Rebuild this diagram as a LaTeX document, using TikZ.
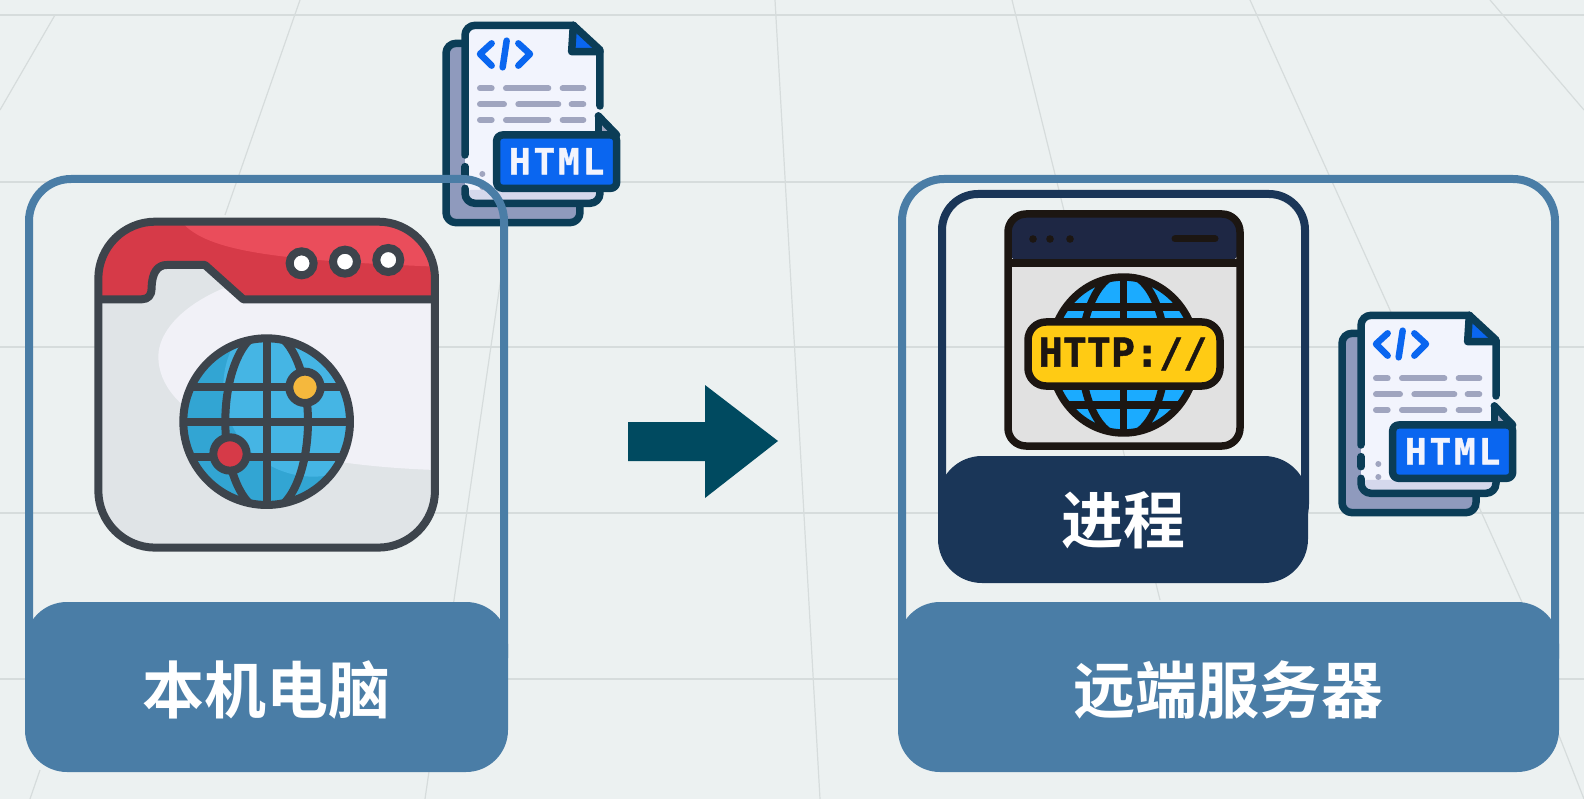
\documentclass[tikz,border=0pt]{standalone}
\usepackage{fontspec}
\newfontfamily\cjkbold[BoldFont=Noto Sans CJK SC Bold]{Noto Sans CJK SC}
\newfontfamily\iconmono[FakeBold=1.2]{DejaVu Sans Mono Bold}
\definecolor{bgc}{HTML}{ECF1F1}
\definecolor{gridc}{HTML}{D6DCDC}
\definecolor{cardc}{HTML}{4A7DA6}
\definecolor{navyc}{HTML}{1A3658}
\definecolor{arrowc}{HTML}{004A60}
\definecolor{inkc}{HTML}{3D444C}
\definecolor{redc}{HTML}{D63A48}
\definecolor{redl}{HTML}{EA4D5B}
\definecolor{bodyc}{HTML}{E0E4E7}
\definecolor{bodyl}{HTML}{F1F1F7}
\definecolor{gl}{HTML}{45B5E4}
\definecolor{gd}{HTML}{32A5D3}
\definecolor{docink}{HTML}{0B3D57}
\definecolor{docback}{HTML}{8F9ABD}
\definecolor{docfront}{HTML}{F2F4FD}
\definecolor{docstrip}{HTML}{D5D8EC}
\definecolor{doclines}{HTML}{A0A5BF}
\definecolor{htmlc}{HTML}{0A66F0}
\definecolor{blk}{HTML}{1C1612}
\definecolor{hdr}{HTML}{1E2744}
\definecolor{panel}{HTML}{E1E1E1}
\definecolor{gb}{HTML}{1BABFF}
\definecolor{yel}{HTML}{FFCB14}
\definecolor{dotyel}{HTML}{F5B83D}
\tikzset{
  gridline/.style={gridc,line width=1.2pt},
  cardline/.style={cardc,line width=8pt,rounded corners=42pt},
  cardband/.style={fill=cardc,rounded corners=42pt},
  cardtext/.style={text=white,font=\cjkbold\bfseries\fontsize{62}{62}\selectfont},
  docline/.style={docink,line width=7.5pt,line cap=round,line join=round},
  textline/.style={doclines,line width=6pt,line cap=round},
  codeline/.style={htmlc,line width=6.5pt,line cap=round,line join=round},
  winline/.style={inkc,line width=8pt,line join=round},
  webline/.style={blk,line width=7.5pt,line join=round},
}
\newcommand{\docicon}[3]{%
\begin{scope}[shift={(420+#1,#2)},scale=0.3333]
  \fill[docback,rounded corners=10pt] (78,130) -- (480,130) -- (480,668) -- (78,668) -- cycle;
  \draw[docline,rounded corners=10pt] (135,130) -- (78,130) -- (78,668) -- (480,668) -- (480,610);
  \fill[docfront,rounded corners=10pt] (135,76) -- (460,76) -- (540,150) -- (540,610) -- (135,610) -- cycle;
  \fill[docstrip,rounded corners=4pt] (140,570) -- (535,570) -- (535,600) -- (140,600) -- cycle;
  \fill[htmlc] (455,84) -- (535,155) -- (455,155) -- cycle;
  \draw[docline,rounded corners=10pt] (135,465) -- (135,76) -- (460,76);
  \draw[docline] (460,76) -- (540,150) -- (540,318);
  \draw[docline] (460,76) -- (455,155) -- (540,155);
  \draw[docline] (135,500) -- (135,530);
  \draw[docline,rounded corners=10pt] (135,565) -- (135,610) -- (540,610) -- (540,570);
  \fill[doclines] (535,350) -- (590,405) -- (535,405) -- cycle;
  \draw[docline] (535,348) -- (590,405);
  \draw[docline] (535,348) -- (535,405);
  \fill[doclines] (187,522) circle (9);
  \fill[doclines] (187,561) circle (9);
  \draw[codeline] (215,130) -- (180,162) -- (215,197);
  \draw[codeline] (260,122) -- (248,202);
  \draw[codeline] (295,130) -- (330,162) -- (295,197);
  \foreach \a/\b/\c in {265/180/215,265/258/385,265/428/490,313/180/252,313/295/415,313/455/490,360/180/215,360/258/385,360/428/490}
    \draw[textline] (\b,\a) -- (\c,\a);
  \filldraw[draw=docink,fill=htmlc,line width=7.5pt,rounded corners=6pt,line join=round] (230,405) rectangle (590,565);
  \node[text=docfront,inner sep=0pt,font=\iconmono\fontsize{36}{36}\selectfont\addfontfeatures{LetterSpace=8}] (#3) at (410,484) {HTML};
\end{scope}}
\begin{document}
\begin{tikzpicture}[x=1pt,y=-1pt]
\useasboundingbox (0,0) rectangle (1584,799);
\fill[bgc] (0,0) rectangle (1584,799);
% floor grid
\foreach \yy in {15,182,347,513,679}
  \draw[gridline] (0,\yy) -- (1584,\yy);
\draw[gridline] (775,0) -- (820,799);
\draw[gridline] (300,0) -- (225,215);
\draw[gridline] (505,250) -- (425,799);
\draw[gridline] (55,15) -- (0,110);
\draw[gridline] (40,770) -- (30,799);
\draw[gridline] (1012,0) -- (1160,600);
\draw[gridline] (1250,0) -- (1530,620);
\draw[gridline] (1490,0) -- (1584,110);
\draw[gridline] (1545,700) -- (1584,799);

% document above the left card
\docicon{0}{0}{htmlA}

% left card
\draw[cardline] (29,179) rectangle (504,700);
\fill[cardband] (25,602) rectangle (508,772);
\node[cardtext] (localtext) at (266,690) {本机电脑};

% left window icon
\begin{scope}[shift={(80,200)},scale=0.3333]
  \begin{scope}
    \clip[rounded corners=57pt] (55,65) rectangle (1065,1043);
    \fill[bodyc] (55,65) rectangle (1065,1043);
    \fill[bodyl] (1065,298) -- (490,298) -- (430,265) .. controls (300,320) and (235,400) .. (235,470)
       .. controls (235,640) and (500,790) .. (1065,810) -- cycle;
    \begin{scope}
      \clip (55,298) -- (185,298) .. controls (205,298) and (215,285) .. (215,265)
       .. controls (215,215) and (235,195) .. (260,195) -- (375,195) -- (490,298) -- (1065,298) -- (1065,50) -- (55,50) -- cycle;
      \fill[redc] (40,50) rectangle (1080,310);
      \fill[redl] (300,60) .. controls (370,150) and (560,180) .. (1070,200) -- (1070,60) -- cycle;
    \end{scope}
  \end{scope}
  \draw[winline] (55,298) -- (185,298) .. controls (205,298) and (215,285) .. (215,265)
     .. controls (215,215) and (235,195) .. (260,195) -- (375,195) -- (490,298) -- (1065,298);
  \draw[winline,rounded corners=57pt] (55,65) rectangle (1065,1043);
  \foreach \px/\py in {665/190,795/185,925/180}
    \filldraw[draw=inkc,fill=white,line width=8pt] (\px,\py) circle (36);
  % globe
  \fill[gd] (560,665) circle (250);
  \begin{scope}
    \clip (560,665) circle (250);
    \fill[gl] (700,560) circle (270);
    \draw[winline] (560,400) -- (560,930);
    \draw[winline] (300,560) -- (820,560);
    \draw[winline] (300,665) -- (820,665);
    \draw[winline] (300,770) -- (820,770);
    \draw[winline] (560,665) ellipse (124 and 270);
  \end{scope}
  \draw[winline] (560,665) circle (250);
  \filldraw[draw=inkc,fill=dotyel,line width=8pt] (675,562) circle (47);
  \filldraw[draw=inkc,fill=redc,line width=8pt] (450,762) circle (50);
\end{scope}

% arrow
\fill[arrowc] (628,422) -- (705,422) -- (705,385) -- (778,441) -- (705,498) -- (705,461) -- (628,461) -- cycle;

% right card
\draw[cardline] (902,179) rectangle (1555,700);
\fill[cardband] (898,602) rectangle (1559,772);
\node[cardtext] (remotetext) at (1228,690) {远端服务器};

% process card
\draw[navyc,line width=8pt,rounded corners=36pt] (942,194) rectangle (1305,540);
\fill[navyc,rounded corners=44pt] (938,456) rectangle (1308,583);
\node[cardtext] (proctext) at (1123,520) {进程};

% web icon
\fill[panel,rounded corners=18pt] (1008,214) rectangle (1240,446);
\fill[hdr,rounded corners=16pt] (1008,214) -- (1240,214) -- (1240,263) -- (1008,263) -- cycle;
\draw[webline] (1008,263) -- (1240,263);
\draw[webline,rounded corners=18pt] (1008,214) rectangle (1240,446);
\foreach \dx in {1033,1050,1070}
  \fill[blk] (\dx,239) circle (3.8);
\draw[blk,line width=7pt,line cap=round] (1175,239) -- (1215,239);
\fill[gb] (1123.5,355) ellipse (73 and 78);
\begin{scope}
  \clip (1123.5,355) ellipse (73 and 78);
  \draw[webline] (1123.5,270) -- (1123.5,440);
  \draw[webline] (1040,307) -- (1210,307);
  \draw[webline] (1040,405) -- (1210,405);
  \draw[webline] (1123.5,355) ellipse (42 and 82);
\end{scope}
\draw[webline] (1123.5,355) ellipse (73 and 78);
\filldraw[draw=blk,fill=yel,line width=7.5pt,rounded corners=18pt] (1028,322) rectangle (1220,386);
\node[text=blk,inner sep=0pt,font=\iconmono\fontsize{40}{40}\selectfont] (httptext) at (1123,354) {HTTP://};

% document beside the process card
\docicon{896}{290}{htmlB}
\end{tikzpicture}
\end{document}
